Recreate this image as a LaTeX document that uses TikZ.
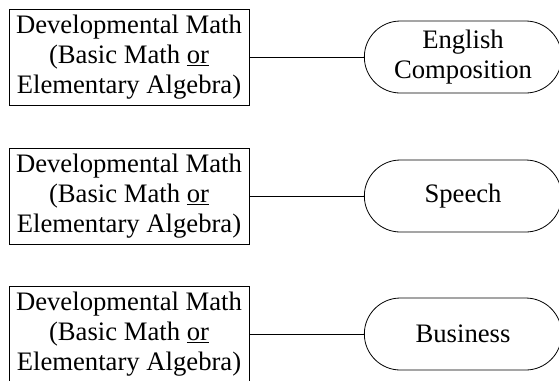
\documentclass[tikz,border=0pt]{standalone}
\usepackage{fontspec}
\setmainfont{Liberation Serif}
\usetikzlibrary{shapes.misc}

\begin{document}
\begin{tikzpicture}[x=0.75pt,y=-0.75pt,line width=0.6pt,
  font=\fontsize{20}{22.5}\selectfont,
  mathbox/.style={draw,rectangle,minimum width=180pt,minimum height=72pt,
    inner sep=0pt,align=center},
  course/.style={draw,rounded rectangle,minimum width=148pt,minimum height=54pt,
    inner sep=0pt,align=center}]
  \useasboundingbox (0,0) rectangle (559,380);

  % row 1: math box and English Composition
  \node[mathbox] (math1) at (129,57) {Developmental Math\\(Basic Math \underline{or}\\Elementary Algebra)};
  \node[course] (english) at (463,57) {English\\Composition};
  \draw (math1.east) -- (english.west);

  % row 2: math box and Speech
  \node[mathbox] (math2) at (129,196) {Developmental Math\\(Basic Math \underline{or}\\Elementary Algebra)};
  \node[course] (speech) at (463,196) {Speech};
  \draw (math2.east) -- (speech.west);

  % row 3: math box and Business (cut at the bottom)
  \node[mathbox] (math3) at (129,334) {Developmental Math\\(Basic Math \underline{or}\\Elementary Algebra)};
  \node[course] (business) at (463,334) {Business};
  \draw (math3.east) -- (business.west);
\end{tikzpicture}
\end{document}
